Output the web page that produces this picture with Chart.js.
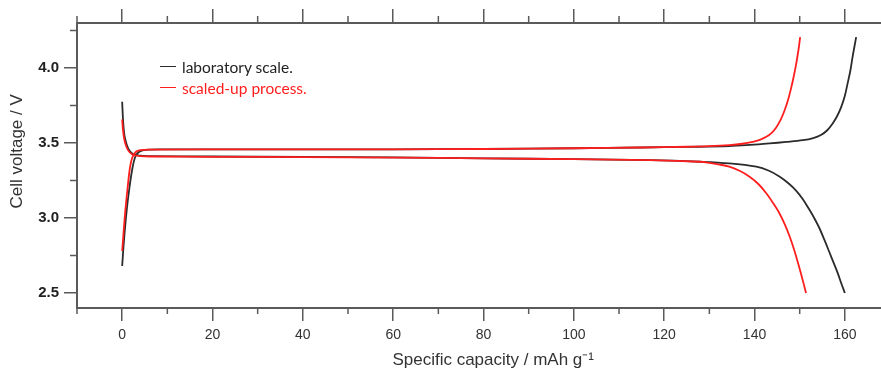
<!DOCTYPE html>
<html>
<head>
<meta charset="utf-8">
<title>Cell voltage vs specific capacity</title>
<script src="https://cdn.jsdelivr.net/npm/chart.js@4.4.1/dist/chart.umd.min.js"></script>
<style>
    html, body { margin: 0; padding: 0; background: #fff; }
    #wrap { position: relative; width: 881px; height: 369px; }
    #legend {
        position: absolute; left: 160px; top: 56px;
        font-family: Lato, 'Open Sans', sans-serif; font-size: 15.5px;
    }
    .row { display: flex; align-items: center; height: 21px; }
    .swatch { width: 16px; height: 1.5px; margin-right: 6px; }
</style>
</head>
<body>
<div id="wrap">
    <canvas id="voltageChart" width="881" height="369"></canvas>
    <div id="legend">
        <div class="row" style="color:#222"><span class="swatch" style="background:#2b2b2b"></span>laboratory scale.</div>
        <div class="row" style="color:#ff1e1e"><span class="swatch" style="background:#ff1e1e"></span>scaled-up process.</div>
    </div>
</div>
<script>
// ticks
const xMajor = [0, 20, 40, 60, 80, 100, 120, 140, 160];
const xMinor = [-10, 10, 30, 50, 70, 90, 110, 130, 150, 170];
const yMajor = [2.5, 3.0, 3.5, 4.0];
const yMinor = [2.75, 3.25, 3.75, 4.25];

// laboratory scale - charge
const labChargeCap = [0, 0.4, 1, 1.6, 2.2, 2.8, 3.5, 4.5, 6, 10, 30, 60, 80, 100, 115, 125, 134.4, 139, 143.3, 147, 150.7, 153, 154.7, 156.1, 157.3, 158.3, 159.2, 160, 160.6, 161.2, 161.7, 162.1, 162.5];
const labChargeV = [2.68, 2.85, 3.05, 3.2, 3.32, 3.40, 3.435, 3.45, 3.456, 3.457, 3.457, 3.458, 3.46, 3.465, 3.47, 3.474, 3.479, 3.487, 3.497, 3.507, 3.519, 3.533, 3.553, 3.585, 3.63, 3.68, 3.741, 3.815, 3.896, 3.98, 4.073, 4.14, 4.206];
// laboratory scale - discharge
const labDischargeCap = [0, 0.2, 0.5, 1, 1.6, 2.5, 4, 6, 20, 40, 60, 80, 100, 117, 128, 134.4, 140.4, 143.2, 145.5, 147.5, 149.2, 150.7, 152.1, 153.3, 154.4, 155.5, 156.6, 157.5, 158.4, 159.2, 160];
const labDischargeV = [3.775, 3.65, 3.55, 3.49, 3.45, 3.425, 3.415, 3.413, 3.41, 3.407, 3.404, 3.398, 3.392, 3.386, 3.375, 3.364, 3.342, 3.315, 3.277, 3.232, 3.183, 3.125, 3.058, 2.995, 2.93, 2.852, 2.77, 2.702, 2.634, 2.565, 2.5];

// scaled-up process - charge
const upChargeCap = [0, 0.3, 0.7, 1.2, 1.7, 2.2, 3, 4, 6, 30, 60, 80, 100, 115, 125, 130, 134.4, 137.3, 139.6, 141.3, 142.6, 143.8, 144.8, 145.8, 146.6, 147.4, 148.1, 148.7, 149.2, 149.7, 150.1];
const upChargeV = [2.78, 2.9, 3.05, 3.2, 3.33, 3.40, 3.44, 3.452, 3.456, 3.457, 3.458, 3.46, 3.465, 3.47, 3.475, 3.479, 3.486, 3.495, 3.508, 3.523, 3.541, 3.568, 3.604, 3.656, 3.713, 3.785, 3.866, 3.947, 4.024, 4.115, 4.206];
// scaled-up process - discharge
const upDischargeCap = [0, 0.2, 0.5, 1, 1.6, 2.5, 4, 6, 20, 40, 60, 80, 100, 117, 128, 130, 132, 134.4, 136.8, 138.9, 140.9, 142.6, 144.1, 145.5, 146.7, 147.7, 148.7, 149.6, 150.5, 151.4];
const upDischargeV = [3.657, 3.58, 3.52, 3.47, 3.44, 3.42, 3.413, 3.41, 3.408, 3.406, 3.403, 3.398, 3.392, 3.386, 3.375, 3.368, 3.358, 3.342, 3.313, 3.275, 3.225, 3.165, 3.1, 3.032, 2.958, 2.883, 2.795, 2.703, 2.605, 2.5];

const AXIS_COLOR = '#5a5a5a';
const BLACK = '#2b2b2b';
const RED = '#ff1e1e';

document.addEventListener('DOMContentLoaded', () => {
    const ctx = document.getElementById('voltageChart').getContext('2d');

    function toPoints(cap, volt) {
        return cap.map((c, i) => ({ x: c, y: volt[i] }));
    }

    function curve(cap, volt, color, order) {
        return {
            data: toPoints(cap, volt),
            borderColor: color,
            borderWidth: 1.8,
            pointRadius: 0,
            fill: false,
            tension: 0.35,
            order: order
        };
    }

    // minor ticks, drawn from the chart scales
    const minorTicks = {
        id: 'minorTicks',
        afterDraw(chart) {
            const { ctx, chartArea, scales } = chart;
            ctx.save();
            ctx.strokeStyle = AXIS_COLOR;
            ctx.lineWidth = 1.5;
            ctx.beginPath();
            xMinor.forEach(v => {
                const px = scales.x.getPixelForValue(v);
                if (px < chartArea.left - 1 || px > chartArea.right + 1) return;
                ctx.moveTo(px, chartArea.bottom);
                ctx.lineTo(px, chartArea.bottom + 6);
                ctx.moveTo(px, chartArea.top);
                ctx.lineTo(px, chartArea.top - 7);
            });
            yMinor.forEach(v => {
                const py = scales.y.getPixelForValue(v);
                ctx.moveTo(chartArea.left, py);
                ctx.lineTo(chartArea.left - 7, py);
            });
            ctx.stroke();
            ctx.restore();
        }
    };

    new Chart(ctx, {
        type: 'line',
        data: {
            datasets: [
                curve(labChargeCap, labChargeV, BLACK, 1),
                curve(labDischargeCap, labDischargeV, BLACK, 1),
                curve(upChargeCap, upChargeV, RED, 0),
                curve(upDischargeCap, upDischargeV, RED, 0)
            ]
        },
        options: {
            responsive: false,
            animation: false,
            layout: { padding: 0 },
            plugins: {
                legend: { display: false },
                tooltip: { enabled: false }
            },
            scales: {
                x: {
                    type: 'linear',
                    position: 'bottom',
                    min: -10,
                    max: 168,
                    afterBuildTicks: axis => { axis.ticks = xMajor.map(v => ({ value: v })); },
                    afterFit: axis => { axis.height = 61; },
                    grid: { drawOnChartArea: false, drawTicks: true, tickLength: 13, color: AXIS_COLOR, lineWidth: 1.5 },
                    border: { display: true, color: AXIS_COLOR, width: 2 },
                    ticks: {
                        padding: 6,
                        color: '#333',
                        font: { family: "'Liberation Sans', Arial, sans-serif", size: 14 }
                    },
                    title: {
                        display: true,
                        text: '      Specific capacity / mAh g\u207B\u00B9',
                        color: '#333',
                        padding: { top: 0, bottom: -2 },
                        font: { family: "'Liberation Sans', Arial, sans-serif", size: 17 }
                    }
                },
                x2: {
                    type: 'linear',
                    position: 'top',
                    min: -10,
                    max: 168,
                    afterBuildTicks: axis => { axis.ticks = xMajor.map(v => ({ value: v })); },
                    afterFit: axis => { axis.height = 23; },
                    grid: { drawOnChartArea: false, drawTicks: true, tickLength: 14, color: AXIS_COLOR, lineWidth: 1.5 },
                    border: { display: true, color: AXIS_COLOR, width: 2 },
                    ticks: { display: false }
                },
                y: {
                    type: 'linear',
                    position: 'left',
                    min: 2.4,
                    max: 4.3,
                    afterBuildTicks: axis => { axis.ticks = yMajor.map(v => ({ value: v })); },
                    afterFit: axis => { axis.width = 77; },
                    grid: { drawOnChartArea: false, drawTicks: true, tickLength: 13, color: AXIS_COLOR, lineWidth: 1.5 },
                    border: { display: true, color: AXIS_COLOR, width: 2 },
                    ticks: {
                        padding: 5,
                        color: '#222',
                        callback: v => Number(v).toFixed(1),
                        font: { family: "'Liberation Sans', Arial, sans-serif", size: 15, weight: 'bold' }
                    },
                    title: {
                        display: true,
                        text: '      Cell voltage / V',
                        color: '#333',
                        padding: { top: 7, bottom: 0 },
                        font: { family: "'Liberation Sans', Arial, sans-serif", size: 17 }
                    }
                }
            }
        },
        plugins: [minorTicks]
    });
});
</script>
</body>
</html>
